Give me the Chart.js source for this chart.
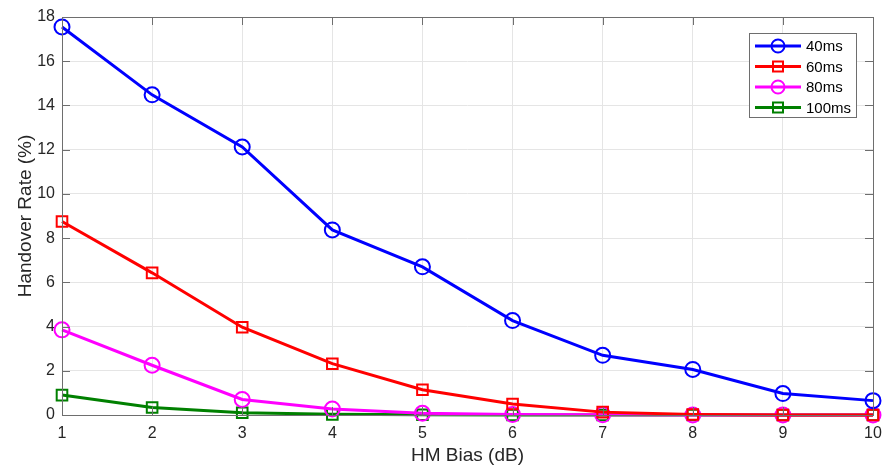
<!DOCTYPE html>
<html>
<head>
<meta charset="utf-8">
<script src="https://cdn.jsdelivr.net/npm/chart.js@4"></script>
<style>
html,body{margin:0;padding:0;background:#fff;}
#wrap{width:884px;height:469px;position:relative;}
</style>
</head>
<body>
<div id="wrap"><canvas id="c" width="884" height="469"></canvas></div>
<script>
const xValues = [1, 2, 3, 4, 5, 6, 7, 8, 9, 10];
const seriesNames = ['40ms', '60ms', '80ms', '100ms'];
const s40 = [17.55, 14.48, 12.12, 8.37, 6.7, 4.27, 2.7, 2.06, 0.97, 0.65];
const s60 = [8.75, 6.43, 3.97, 2.32, 1.14, 0.5, 0.13, 0.02, 0.0, 0.0];
const s80 = [3.85, 2.25, 0.7, 0.27, 0.08, 0.02, 0.01, 0.0, 0.0, 0.0];
const s100 = [0.9, 0.34, 0.1, 0.03, 0.01, 0.0, 0.0, 0.0, 0.0, 0.0];
const yTicks = [0, 2, 4, 6, 8, 10, 12, 14, 16, 18];

const colors = ['#0000ff', '#ff0000', '#ff00ff', '#008000'];
const markers = ['circle', 'rect', 'circle', 'rect'];
const allSeries = [s40, s60, s80, s100];
const FONT = 'Arial, "Liberation Sans", Helvetica, sans-serif';

const datasets = allSeries.map((s, i) => ({
  label: seriesNames[i],
  data: xValues.map((x, j) => ({x: x, y: s[j]})),
  borderColor: colors[i],
  backgroundColor: 'rgba(0,0,0,0)',
  borderWidth: 3,
  pointStyle: markers[i],
  pointRadius: 7.5,
  pointBorderWidth: 2,
  pointBorderColor: colors[i],
  pointBackgroundColor: 'rgba(0,0,0,0)',
  tension: 0,
  clip: false
}));

const PAD = {left: 14, top: 17, right: 11, bottom: 2};

const boxPlugin = {
  id: 'box',
  afterDraw(chart) {
    const {ctx, chartArea: a} = chart;
    ctx.save();
    ctx.strokeStyle = '#6e6e6e';
    ctx.lineWidth = 1;
    ctx.strokeRect(Math.round(a.left) + 0.5, Math.round(a.top) + 0.5, Math.round(a.right - a.left), Math.round(a.bottom - a.top));
    const xs = chart.scales.x, ys = chart.scales.y;
    ctx.beginPath();
    xValues.forEach(v => {
      const px = Math.round(xs.getPixelForValue(v)) + 0.5;
      ctx.moveTo(px, a.bottom); ctx.lineTo(px, a.bottom - 8);
      ctx.moveTo(px, a.top); ctx.lineTo(px, a.top + 8);
    });
    yTicks.forEach(v => {
      const py = Math.round(ys.getPixelForValue(v)) + 0.5;
      ctx.moveTo(a.left, py); ctx.lineTo(a.left + 8, py);
      ctx.moveTo(a.right, py); ctx.lineTo(a.right - 8, py);
    });
    ctx.stroke();
    // legend
    const lx = 749, ly = 33, lw = 107, lh = 84;
    ctx.fillStyle = '#ffffff';
    ctx.fillRect(lx, ly, lw, lh);
    ctx.strokeStyle = '#6e6e6e';
    ctx.lineWidth = 1;
    ctx.strokeRect(lx + 0.5, ly + 0.5, lw, lh);
    chart.data.datasets.forEach((d, i) => {
      const y = ly + 13 + i * 20.5;
      ctx.strokeStyle = d.borderColor;
      ctx.lineWidth = 3;
      ctx.beginPath();
      ctx.moveTo(lx + 6, y); ctx.lineTo(lx + 52, y);
      ctx.stroke();
      ctx.lineWidth = 2;
      ctx.beginPath();
      if (d.pointStyle === 'circle') {
        ctx.arc(lx + 29, y, 6.5, 0, Math.PI * 2);
      } else {
        ctx.rect(lx + 24, y - 5, 10, 10);
      }
      ctx.stroke();
      ctx.fillStyle = '#000000';
      ctx.font = '15px ' + FONT;
      ctx.textBaseline = 'middle';
      ctx.textAlign = 'left';
      ctx.fillText(d.label, lx + 57, y + 1);
    });
    ctx.restore();
  }
};

new Chart(document.getElementById('c'), {
  type: 'line',
  data: {datasets},
  options: {
    responsive: false,
    animation: false,
    layout: {padding: PAD},
    plugins: {legend: {display: false}, tooltip: {enabled: false}},
    scales: {
      x: {
        type: 'linear', min: 1, max: 10,
        afterBuildTicks(s) { s.ticks = xValues.map(v => ({value: v})); },
        ticks: {color: '#262626', font: {size: 16, family: FONT}, padding: 9, maxRotation: 0},
        grid: {color: '#e5e5e5', drawTicks: false, lineWidth: 1},
        border: {display: false},
        title: {display: true, text: 'HM Bias (dB)', color: '#262626', font: {size: 19, family: FONT}, padding: {top: 2, bottom: 0}},
        afterFit(s) { s.height = 469 - 415 - PAD.bottom; s.paddingLeft = 0; s.paddingRight = 0; }
      },
      y: {
        min: 0, max: 18,
        afterBuildTicks(s) { s.ticks = yTicks.map(v => ({value: v})); },
        ticks: {color: '#262626', font: {size: 16, family: FONT}, padding: 7},
        grid: {color: '#e5e5e5', drawTicks: false, lineWidth: 1},
        border: {display: false},
        title: {display: true, text: 'Handover Rate (%)', color: '#262626', font: {size: 19, family: FONT}, padding: {top: 0, bottom: 4}},
        afterFit(s) { s.width = 62 - PAD.left; s.paddingTop = 0; s.paddingBottom = 0; }
      }
    }
  },
  plugins: [boxPlugin]
});
</script>
</body>
</html>
